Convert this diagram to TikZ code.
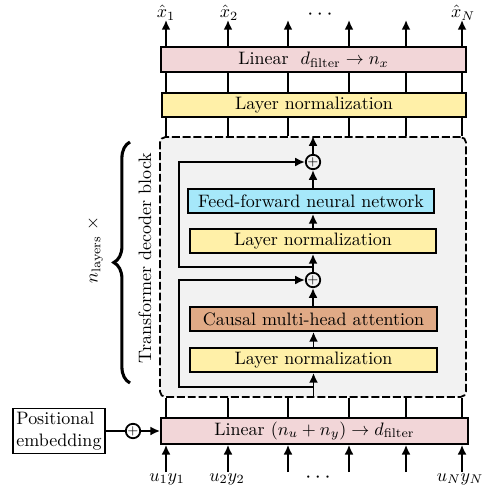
\documentclass[tikz,border=0pt]{standalone}
\usetikzlibrary{arrows.meta,decorations.pathreplacing}
\definecolor{linpink}{RGB}{242,214,216}
\definecolor{lnyellow}{RGB}{255,240,168}
\definecolor{ffncyan}{RGB}{166,232,250}
\definecolor{attntan}{RGB}{224,170,134}
\definecolor{blkgray}{RGB}{242,242,242}
\tikzset{
  lw/.style={line width=1pt},
  arr/.style={lw,-{Latex[length=5.4pt,width=5pt]}},
  boxnode/.style={draw,lw,inner sep=0pt,minimum height=13.4pt},
  plusnode/.style={circle,draw,lw,minimum size=7.6pt,inner sep=0pt,font=\scriptsize},
  blockbox/.style={draw,lw,dash pattern=on 4.4pt off 1.6pt,fill=blkgray,rounded corners=3pt,inner sep=0pt},
}
\begin{document}
\begin{tikzpicture}[x=0.5556pt,y=-0.5556pt]
\useasboundingbox (0,0) rectangle (485,488);
% decoder block background
\node[blockbox,minimum width=170pt,minimum height=144.4pt] (blk) at (313,267) {};
% boxes
\node[boxnode,fill=linpink,minimum width=169.4pt,minimum height=13.9pt] (linTop) at (313.5,59.5) {Linear~~$d_{\mathrm{filter}}\rightarrow n_x$};
\node[boxnode,fill=lnyellow,minimum width=168.9pt] (lnTop) at (314,105) {Layer normalization};
\node[boxnode,fill=ffncyan,minimum width=136.7pt] (ffn) at (311,201) {Feed-forward neural network};
\node[boxnode,fill=lnyellow,minimum width=136.7pt] (ln2) at (313,241) {Layer normalization};
\node[boxnode,fill=attntan,minimum width=137.2pt] (attn) at (313.5,319) {Causal multi-head attention};
\node[boxnode,fill=lnyellow,minimum width=137.2pt] (ln3) at (313.5,360) {Layer normalization};
\node[boxnode,fill=linpink,minimum width=170.6pt,minimum height=14.4pt] (linBot) at (314.5,431) {Linear $(n_u+n_y)\rightarrow d_{\mathrm{filter}}$};
\node[draw,lw,fill=white,minimum width=51.1pt,minimum height=25pt,inner sep=1pt,align=left] (pos) at (59,431) {Positional\\embedding};
% plus nodes
\node[plusnode] (plus1) at (313,162) {$+$};
\node[plusnode] (plus2) at (313,280) {$+$};
\node[plusnode] (pplus) at (133,431) {$+$};
% internal flow
\coordinate (s1) at (313,267);
\coordinate (k1) at (179,267);
\coordinate (s2) at (313,387);
\coordinate (k2) at (179,387);
\draw[arr] (blk.south -| ln3.south) -- (ln3.south);
\draw[arr] (ln3.north) -- (attn.south -| ln3.north);
\draw[arr] (attn.north -| plus2) -- (plus2.south);
\draw[arr] (s2) -- (k2) |- (plus2.west);
\draw[arr] (plus2.north) -- (ln2.south -| plus2.north);
\draw[arr] (s1) -- (k1) |- (plus1.west);
\draw[arr] (ln2.north) -- (ffn.south -| ln2.north);
\draw[arr] (ffn.north -| plus1) -- (plus1.south);
\draw[arr] (plus1.north) -- (blk.north -| plus1.north);
% positional embedding
\draw[lw] (pos.east) -- (pplus.west);
\draw[arr] (pplus.east) -- (linBot.west |- pplus.east);
% columns
\foreach \i/\xx in {1/166,2/228,3/288,4/349,5/406,6/462}{
  \coordinate (c\i) at (\xx,0);
  \coordinate (t\i) at (\xx,20);
  \coordinate (b\i) at (\xx,472);
  \draw[lw] (blk.south -| c\i) -- (linBot.north -| c\i);
  \draw[lw] (lnTop.south -| c\i) -- (blk.north -| c\i);
  \draw[lw] (linTop.south -| c\i) -- (lnTop.north -| c\i);
  \draw[arr] (linTop.north -| c\i) -- (t\i);
  \draw[arr] (b\i) -- (linBot.south -| c\i);
}
% labels
\node (x1) at (166,13) {$\hat{x}_1$};
\node (x2) at (229,13) {$\hat{x}_2$};
\node[font=\large] (xd) at (320,15) {$\cdots$};
\node (xN) at (463,13) {$\hat{x}_N$};
\node (u1) at (167,479) {$u_1y_1$};
\node (u2) at (227,479) {$u_2y_2$};
\node[font=\large] (ud) at (318,478) {$\cdots$};
\node (uN) at (460,479) {$u_Ny_N$};
% brace and side labels
\coordinate (bb) at (130,383);
\coordinate (bt) at (130,142);
\draw[decorate,decoration={brace,amplitude=9pt},line width=1.7pt] (bb) -- (bt);
\node[rotate=90] (tdb) at (145,258) {Transformer decoder block};
\node[rotate=90] (nl) at (95,250) {$n_{\mathrm{layers}}\;\times$};
\end{tikzpicture}
\end{document}
